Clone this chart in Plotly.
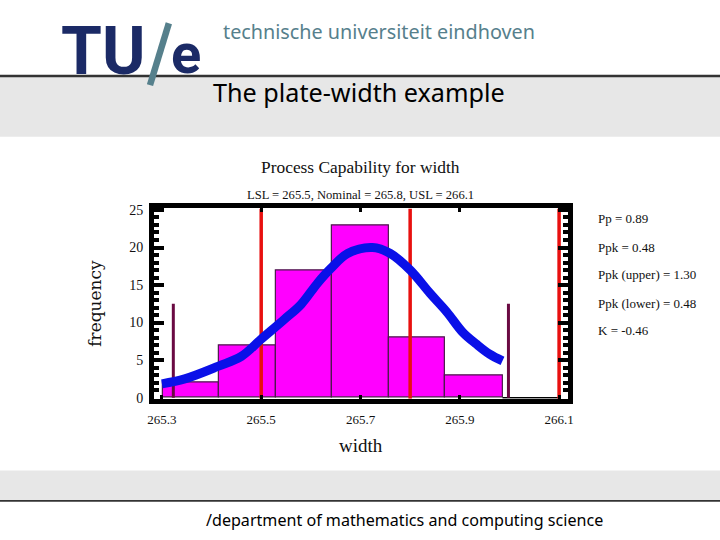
import plotly.graph_objects as go

bin_edges = [265.302, 265.415, 265.53, 265.643, 265.757, 265.87, 265.986]
frequency = [2, 7, 17, 23, 8, 3]

curve_x = [265.3, 265.346, 265.414, 265.46, 265.5, 265.546, 265.58, 265.614, 265.64, 265.674,
           265.724, 265.76, 265.8, 265.84, 265.874, 265.906, 265.934, 265.96, 265.986]
curve_y = [1.84, 2.5, 4.2, 5.5, 7.8, 10.4, 12.4, 15.3, 17.2, 19.2,
           20, 19.2, 17, 13.9, 11.4, 8.7, 7.1, 5.8, 4.9]

spec_limits = [265.5, 265.8, 266.1]
sample_limits = [265.323, 265.998]
sample_limit_height = 12.5

x_ticks = [265.3, 265.5, 265.7, 265.9, 266.1]
x_tick_labels = ['265.3', '265.5', '265.7', '265.9', '266.1']
y_ticks = [0, 5, 10, 15, 20, 25]

stats = ['Pp = 0.89', 'Ppk = 0.48', 'Ppk (upper) = 1.30', 'Ppk (lower) = 0.48', 'K = -0.46']
stats_y = [217, 246, 274, 303, 331]

W, H = 720, 540
x_range = [265.284, 266.117]
y_range = [-0.13, 25.2]
serif = 'Liberation Serif'
slide_font = 'Noto Sans'
navy = '#1b2a66'
teal = '#56808c'
grey = '#e7e7e7'


# the photographed page comes out slightly inset, so paper fractions are measured from that
def px(x):
    return (x - 4) / 712


def py(y):
    return 1 - (y - 0.5) / 536.2


def label(text, x, y, size, color='#111111', family=serif, anchor='left', **kw):
    return dict(text=text, x=px(x), y=py(y), xref='paper', yref='paper', showarrow=False,
                xanchor=anchor, yanchor='middle', borderpad=0, borderwidth=0,
                font=dict(size=size, color=color, family=family), **kw)


def band(y0, y1, color, layer='below'):
    return dict(type='rect', xref='paper', yref='paper', x0=-0.02, x1=1.02, y0=py(y0), y1=py(y1),
                fillcolor=color, line_width=0, layer=layer)


fig = go.Figure()
fig.add_trace(go.Bar(
    x=bin_edges[:-1],
    y=frequency,
    width=[b - a for a, b in zip(bin_edges[:-1], bin_edges[1:])],
    offset=0,
    marker=dict(color='#ff00ff', line=dict(color='#4a1a4a', width=1.2)),
))
fig.add_trace(go.Scatter(x=[bin_edges[-1], spec_limits[-1]], y=[0, 0], mode='lines',
                         line=dict(color='black', width=1.5)))
for limit in spec_limits:
    fig.add_trace(go.Scatter(x=[limit, limit], y=y_range, mode='lines',
                             line=dict(color='#e8100f', width=3.5)))
for limit in sample_limits:
    fig.add_trace(go.Scatter(x=[limit, limit], y=[0, sample_limit_height], mode='lines',
                             line=dict(color='#6a0a42', width=3)))
fig.add_trace(go.Scatter(x=curve_x, y=curve_y, mode='lines',
                         line=dict(color='#0a10e8', width=9, shape='spline')))

shapes = [
    band(72, 133.5, grey),
    band(473, 503, grey),
    band(70.5, 73, '#333333'),
    band(503, 505, '#333333'),
    dict(type='line', xref='paper', yref='paper', x0=px(167), y0=py(18), x1=px(148), y1=py(81),
         line=dict(color=teal, width=6.5), layer='above'),
]

annotations = [
    label('<b>TU</b>', 58, 47, 66, navy, 'Roboto'),
    label('<b>e</b>', 169, 49, 56, navy, 'Roboto'),
    label('technische universiteit eindhoven', 222, 26.5, 19.8, teal, slide_font),
    label('The plate-width example', 211, 87.5, 25.2, 'black', slide_font),
    label('/department of mathematics and computing science', 204, 523, 16.1, 'black', slide_font),
    label('Process Capability for width', 360.5, 164, 17.4, anchor='center'),
    label('LSL = 265.5, Nominal = 265.8, USL = 266.1', 360, 193, 12.6, anchor='center'),
]
for text, y in zip(stats, stats_y):
    annotations.append(label(text, 599, y, 13))

fig.update_layout(
    width=W,
    height=H,
    margin=dict(l=0, r=0, t=0, b=0),
    paper_bgcolor='white',
    plot_bgcolor='white',
    showlegend=False,
    bargap=0,
    shapes=shapes,
    annotations=annotations,
    xaxis=dict(
        domain=[px(152), px(568.5)],
        range=x_range,
        tickvals=x_ticks,
        ticktext=x_tick_labels,
        ticks='inside',
        ticklen=4,
        tickwidth=3,
        tickcolor='black',
        ticklabelstandoff=5,
        showgrid=False,
        zeroline=False,
        showline=True,
        linecolor='black',
        linewidth=5,
        mirror='allticks',
        tickfont=dict(family=serif, size=13, color='#111111'),
        title=dict(text='width', font=dict(family=serif, size=19, color='#111111'), standoff=14),
    ),
    yaxis=dict(
        domain=[py(400), py(206.5)],
        range=y_range,
        tickvals=y_ticks,
        ticks='inside',
        ticklen=10,
        tickwidth=4,
        tickcolor='black',
        ticklabelstandoff=3,
        minor=dict(dtick=1, ticks='inside', ticklen=5, tickwidth=4, tickcolor='black'),
        showgrid=False,
        zeroline=False,
        showline=True,
        linecolor='black',
        linewidth=5,
        mirror='allticks',
        tickfont=dict(family=serif, size=14, color='#111111'),
        title=dict(text='frequency', font=dict(family='DejaVu Serif', size=17, color='#111111'), standoff=25),
    ),
)

fig.write_html('out.html', config={'displayModeBar': False},
               post_script="document.body.style.margin='0';")
